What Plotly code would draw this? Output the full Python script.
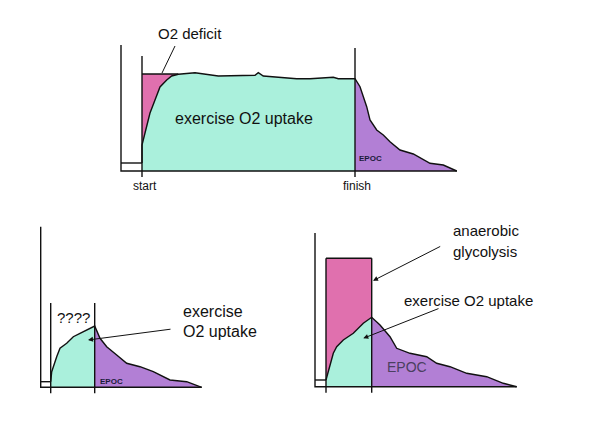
import plotly.graph_objects as go

# colours of the three areas
CYAN = "#aaf0dc"
PINK = "#e070ae"
PURPLE = "#b27fd5"
INK = "#111111"
FONT = "Liberation Sans, Arial, sans-serif"

# ---- panel 1: steady exercise (x = time from axis, y = O2 above baseline)
p1_start, p1_finish, p1_end = 21, 234, 336
p1_rest, p1_deficit_top, p1_axis_top = 8, 97, 126
p1_up_x = [21, 21, 24, 29, 34, 39, 45.7, 50.7, 57.3, 74, 97.3, 134, 137.3, 142.3, 175.7, 189, 212.3, 217.3, 234]
p1_up_y = [8, 26, 38, 58, 71, 84, 91, 95, 96.7, 98.3, 95, 95.7, 98.3, 95, 92.3, 92.3, 93.7, 92.3, 92.3]
p1_epoc_x = [234, 239, 245.7, 249, 255.7, 262.3, 269, 279, 292.3, 309, 322.3, 335.7]
p1_epoc_y = [92.3, 84.3, 64.3, 51, 41, 36, 29.3, 21, 17, 7.7, 6, 0]

# ---- panel 2: short bout, unknown top
p2_start, p2_finish, p2_end = 10, 54, 161
p2_rest, p2_line_top, p2_axis_top = 5.6, 84.3, 160.6
p2_up_x = [10, 11, 16, 19.3, 26, 32.6, 39.3, 46, 54]
p2_up_y = [5.6, 15.6, 30.6, 39, 44, 50.6, 54, 57.3, 61.3]
p2_epoc_x = [54, 59.3, 66, 76, 86, 99.3, 112.6, 129.3, 146, 161]
p2_epoc_y = [61.3, 49, 40.6, 32.3, 24, 20.6, 15.6, 7.3, 5.6, 0]

# ---- panel 3: short bout with anaerobic glycolysis
p3_start, p3_finish, p3_end = 11, 56.7, 201.7
p3_rest, p3_glyco_top, p3_axis_top = 6.7, 128.4, 153.7
p3_up_x = [11, 13.3, 18.3, 21.7, 28.3, 38.3, 48.3, 56.7]
p3_up_y = [6.7, 15, 33.4, 40, 46.7, 53.4, 63.4, 69.4]
p3_epoc_x = [56.7, 65, 75, 81.7, 95, 111.7, 121.7, 135, 151.7, 171.7, 188.3, 201.7]
p3_epoc_y = [69.4, 61.7, 50, 38.4, 33.4, 30, 23.4, 20, 13.4, 10, 3.4, 0]

# page has an 8px body margin, so the figure is drawn 8px in from the corner
PAD = 8
W, H = 600 - PAD, 448 - PAD
fig = go.Figure()


def line(xs, ys, ax, color=INK, width=1.4):
    fig.add_trace(go.Scatter(x=xs, y=ys, mode="lines", xaxis="x" + ax, yaxis="y" + ax,
                             line=dict(color=color, width=width), hoverinfo="skip", showlegend=False))


def area(xs, ys, ax, color):
    fig.add_trace(go.Scatter(x=xs, y=ys, mode="lines", fill="toself", fillcolor=color,
                             xaxis="x" + ax, yaxis="y" + ax, line=dict(width=0),
                             hoverinfo="skip", showlegend=False))


def panel(ax, start, finish, end, rest, axis_top, line_top, up_x, up_y, ep_x, ep_y, pink_top=None, pink_to=None):
    if pink_top is not None:
        area([start, start, pink_to, pink_to], [0, pink_top, pink_top, 0], ax, PINK)
    area([start] + up_x + [finish], [0] + up_y + [0], ax, CYAN)
    area(ep_x + [finish], ep_y + [0], ax, PURPLE)
    line(up_x + ep_x[1:], up_y + ep_y[1:], ax)
    line([0, 0, end], [axis_top, 0, 0], ax)
    line([0, start], [rest, rest], ax)
    line([start, start], [-6, line_top[0]], ax)
    line([finish, finish], [-6, line_top[1]], ax)
    if pink_top is not None:
        line([start, pink_to], [pink_top, pink_top], ax)


panel("", p1_start, p1_finish, p1_end, p1_rest, p1_axis_top, (115, 123),
      p1_up_x, p1_up_y, p1_epoc_x, p1_epoc_y, pink_top=p1_deficit_top, pink_to=57.3)
panel("2", p2_start, p2_finish, p2_end, p2_rest, p2_axis_top, (p2_line_top, p2_line_top),
      p2_up_x, p2_up_y, p2_epoc_x, p2_epoc_y)
panel("3", p3_start, p3_finish, p3_end, p3_rest, p3_axis_top, (p3_glyco_top, p3_glyco_top),
      p3_up_x, p3_up_y, p3_epoc_x, p3_epoc_y, pink_top=p3_glyco_top, pink_to=p3_finish)

# O2 deficit pointer (plain line)
line([54, 41], [125, 98], "", width=1)


def axes(ox, oy, x0, x1, y0, y1):
    # x0..y1 are screen pixels; shift by the page margin to get paper pixels
    xa = dict(range=[x0 - ox, x1 - ox], domain=[(x0 - PAD) / W, (x1 - PAD) / W],
              visible=False, fixedrange=True)
    ya = dict(range=[oy - y1, oy - y0], domain=[(H - (y1 - PAD)) / H, (H - (y0 - PAD)) / H],
              visible=False, fixedrange=True)
    return xa, ya


xa1, ya1 = axes(121, 171, 100, 480, 12, 205)
xa2, ya2 = axes(40.7, 387.3, 15, 265, 215, 420)
xa3, ya3 = axes(315, 386.7, 295, 575, 212, 420)
xa2["anchor"], ya2["anchor"] = "y2", "x2"
xa3["anchor"], ya3["anchor"] = "y3", "x3"


def txt(text, x, y, ax, size, xanchor="center", color=INK, bold=False):
    return dict(text=f"<b>{text}</b>" if bold else text, x=x, y=y, xref="x" + ax, yref="y" + ax,
                showarrow=False, xanchor=xanchor, yanchor="middle",
                font=dict(family=FONT, size=size, color=color))


def arrow(x, y, tx, ty, ax):
    return dict(text="", x=x, y=y, ax=tx, ay=ty, xref="x" + ax, yref="y" + ax,
                axref="x" + ax, ayref="y" + ax, showarrow=True, arrowhead=2,
                arrowsize=1, arrowwidth=1, arrowcolor=INK)


annotations = [
    txt("O2 deficit", 69, 137, "", 15),
    txt("exercise O2 uptake", 123, 52, "", 16),
    txt("EPOC", 249, 12, "", 8, color="#1a1a3a", bold=True),
    txt("start", 24, -15, "", 12),
    txt("finish", 236, -15, "", 12),
    txt("????", 32.3, 70.3, "2", 15),
    txt("exercise", 140.3, 76.3, "2", 16, xanchor="left"),
    txt("O2 uptake", 140.3, 56.3, "2", 16, xanchor="left"),
    txt("EPOC", 70.8, 6.3, "2", 8, color="#1a1a3a", bold=True),
    arrow(47.3, 47.3, 131.3, 58.3, "2"),
    txt("anaerobic", 136, 156.7, "3", 15, xanchor="left"),
    txt("glycolysis", 136, 135, "3", 15, xanchor="left"),
    txt("exercise O2 uptake", 86.7, 86.7, "3", 15, xanchor="left"),
    txt("EPOC", 92, 19.7, "3", 14, color="#4a4060"),
    arrow(58, 106, 126.7, 141, "3"),
    arrow(48.3, 48.4, 125, 78.7, "3"),
]

fig.update_layout(
    width=W, height=H,
    margin=dict(l=0, r=0, t=0, b=0),
    paper_bgcolor="white", plot_bgcolor="rgba(0,0,0,0)",
    xaxis=xa1, yaxis=ya1, xaxis2=xa2, yaxis2=ya2, xaxis3=xa3, yaxis3=ya3,
    annotations=annotations,
    showlegend=False,
)

fig.write_html("out.html", config={"displayModeBar": False})
